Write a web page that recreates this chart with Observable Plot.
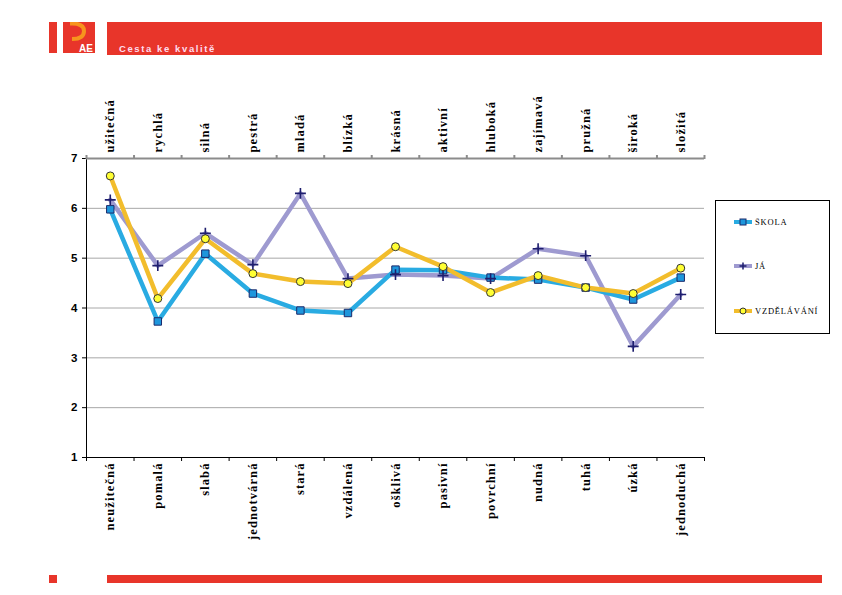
<!DOCTYPE html>
<html>
<head>
<meta charset="utf-8">
<script src="https://cdn.jsdelivr.net/npm/d3@7"></script>
<script src="https://cdn.jsdelivr.net/npm/@observablehq/plot@0.6"></script>
<style>
  html, body { margin: 0; padding: 0; background: #fff; }
  #page { position: relative; width: 842px; height: 595px; overflow: hidden; }
  #chart { position: absolute; left: 0; top: 0; }
  .red { position: absolute; background: #E8352A; }
  #legend { position: absolute; left: 715px; top: 200px; width: 113px; height: 132px; border: 1px solid #000; background: #fff; font-family: "Liberation Serif", serif; font-size: 8.5px; }
  .li { position: absolute; left: 18px; height: 10px; display: flex; align-items: center; }
  .li span { margin-left: 3px; letter-spacing: 0.8px; }
  .catlab text { letter-spacing: 1.1px; }
</style>
</head>
<body>
<div id="page">
  <div id="chart"></div>
  <!-- header -->
  <div class="red" style="left:49px; top:22px; width:8px; height:31px;"></div>
  <div class="red" style="left:63px; top:22px; width:32px; height:31px;"></div>
  <svg style="position:absolute; left:63px; top:22px;" width="32" height="31">
    <path d="M9,0 L9,1.5 Q21,1.5 21,9 Q21,17 9,17" fill="none" stroke="#F7941D" stroke-width="4"/>
    <text x="16" y="30" fill="#fff" font-family="Liberation Sans, Arial" font-weight="bold" font-size="10">AE</text>
  </svg>
  <div class="red" style="left:107px; top:22px; width:715px; height:33px;"></div>
  <div style="position:absolute; left:119px; top:43px; color:#fde; font-family:'Liberation Sans', Arial; font-weight:bold; font-size:9.5px; letter-spacing:1.6px;">Cesta ke kvalitě</div>
  <!-- footer -->
  <div class="red" style="left:49px; top:575px; width:8px; height:8px;"></div>
  <div class="red" style="left:107px; top:575px; width:715px; height:8px;"></div>
  <!-- legend -->
  <div id="legend">
    <div class="li" style="top:16px;"><svg width="18" height="10"><line x1="0" y1="5" x2="18" y2="5" stroke="#29ABE2" stroke-width="4"/><rect x="6" y="2" width="6" height="6" fill="#1E96DC" stroke="#1B2A6B" stroke-width="1"/></svg><span>ŠKOLA</span></div>
    <div class="li" style="top:60px;"><svg width="18" height="10"><line x1="0" y1="5" x2="18" y2="5" stroke="#9E9AD0" stroke-width="4"/><path d="M9,1.5V8.5M5.5,5H12.5" stroke="#1E1E6E" stroke-width="1.5"/></svg><span>JÁ</span></div>
    <div class="li" style="top:105px;"><svg width="18" height="10"><line x1="0" y1="5" x2="18" y2="5" stroke="#F2BD2C" stroke-width="4"/><circle cx="9" cy="5" r="3" fill="#FFFF33" stroke="#333" stroke-width="1"/></svg><span>VZDĚLÁVÁNÍ</span></div>
  </div>
</div>
<script>
const categoriesBottom = ["neužitečná","pomalá","slabá","jednotvárná","stará","vzdálená","ošklivá","pasivní","povrchní","nudná","tuhá","úzká","jednoduchá"];
const categoriesTop = ["užitečná","rychlá","silná","pestrá","mladá","blízká","krásná","aktivní","hluboká","zajímavá","pružná","široká","složitá"];
const skola = [5.98, 3.73, 5.09, 4.29, 3.95, 3.90, 4.77, 4.76, 4.61, 4.57, 4.41, 4.17, 4.61];
const ja = [6.17, 4.85, 5.50, 4.87, 6.30, 4.59, 4.67, 4.65, 4.59, 5.19, 5.05, 3.23, 4.27];
const vzdelavani = [6.65, 4.19, 5.39, 4.69, 4.53, 4.49, 5.23, 4.83, 4.31, 4.65, 4.41, 4.29, 4.80];
const yTicks = [1, 2, 3, 4, 5, 6, 7];

const idx = d3.range(categoriesBottom.length);
const boundaries = d3.range(categoriesBottom.length + 1).map(i => i - 0.5);
const rows = (vals) => vals.map((v, i) => ({i, v}));
const dSkola = rows(skola), dJa = rows(ja), dVzd = rows(vzdelavani);

const labelFont = {fontFamily: "Liberation Serif, Times New Roman, serif", fontWeight: "bold", fontSize: 12.5, className: "catlab"};

const chart = Plot.plot({
  width: 842,
  height: 595,
  marginLeft: 86,
  marginRight: 138,
  marginTop: 158,
  marginBottom: 138,
  style: {background: "transparent", color: "#000"},
  x: {type: "linear", domain: [-0.5, categoriesBottom.length - 0.5], axis: null},
  y: {domain: [1, 7], axis: null},
  marks: [
    Plot.gridY(yTicks.slice(1, -1), {stroke: "#a8a8a8", strokeOpacity: 1}),
    Plot.axisY(yTicks, {label: null, tickSize: 4, tickPadding: 5, tickFormat: d => String(d), fontFamily: "Liberation Sans, Arial", fontWeight: "bold", fontSize: 11.5, stroke: "#000"}),
    Plot.ruleX([-0.5], {stroke: "#000"}),
    Plot.ruleY([1], {stroke: "#000"}),
    Plot.ruleY([7], {stroke: "#8c8c8c", strokeWidth: 2}),
    Plot.axisX(boundaries, {label: null, anchor: "top", tickSize: 4, tickFormat: () => "", stroke: "#8c8c8c", strokeWidth: 2}),
    Plot.axisX(boundaries, {label: null, anchor: "bottom", tickSize: 4, tickFormat: () => "", stroke: "#000"}),
    Plot.axisX(idx, {label: null, anchor: "top", tickSize: 0, tickPadding: 6, tickRotate: -90, tickFormat: i => categoriesTop[i], ...labelFont}),
    Plot.axisX(idx, {label: null, anchor: "bottom", tickSize: 0, tickPadding: 5, tickRotate: -90, tickFormat: i => categoriesBottom[i], ...labelFont}),
    Plot.line(dJa, {x: "i", y: "v", stroke: "#9E9AD0", strokeWidth: 4.5}),
    Plot.line(dSkola, {x: "i", y: "v", stroke: "#29ABE2", strokeWidth: 4.5}),
    Plot.line(dVzd, {x: "i", y: "v", stroke: "#F2BD2C", strokeWidth: 4.5}),
    Plot.dot(dSkola, {x: "i", y: "v", symbol: "square", r: 4.2, fill: "#1E96DC", stroke: "#1B2A6B", strokeWidth: 1}),
    Plot.dot(dJa, {x: "i", y: "v", symbol: "plus", r: 3.6, stroke: "#1E1E6E", strokeWidth: 1.6}),
    Plot.dot(dVzd, {x: "i", y: "v", symbol: "circle", r: 4, fill: "#FFFF33", stroke: "#333", strokeWidth: 1})
  ]
});
document.getElementById("chart").appendChild(chart);
</script>
</body>
</html>
